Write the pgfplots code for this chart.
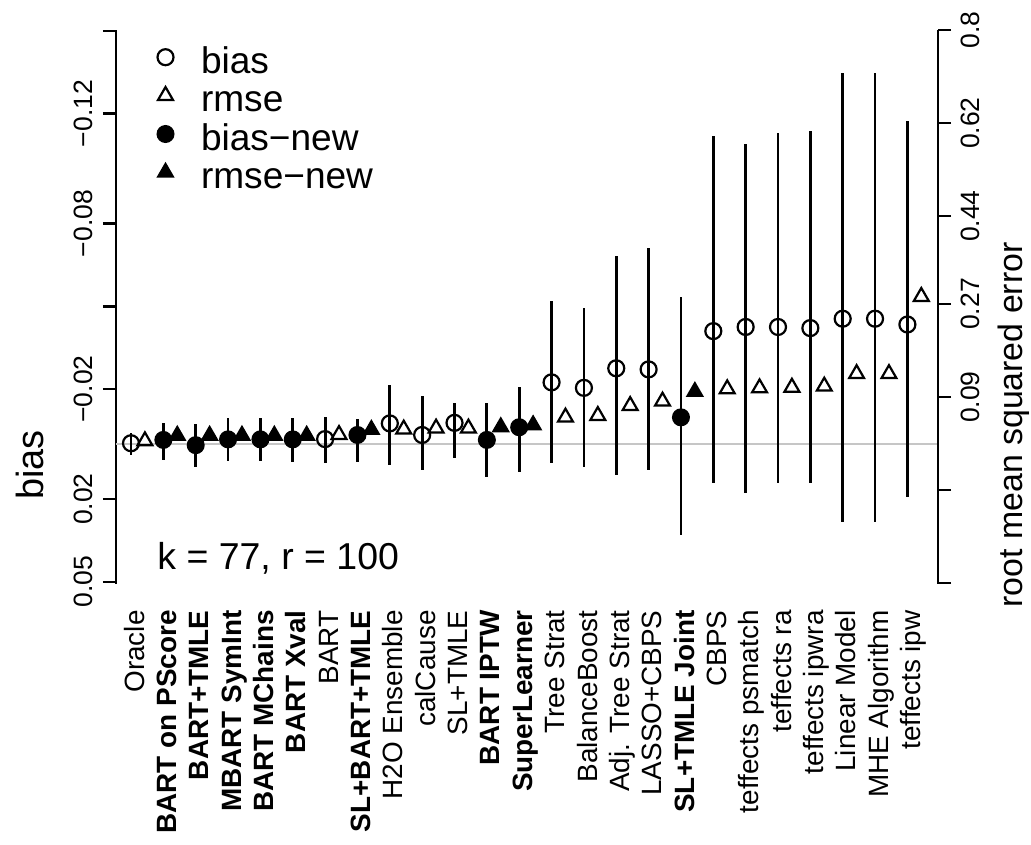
\documentclass[border=0pt]{standalone}
\usepackage{fontspec}
\setmainfont{Liberation Sans}
\usepackage{pgfplots}
\usepackage{pgfplotstable}
\pgfplotsset{compat=1.18}

% x = method index, b = bias, lo/hi = interval ends, r = rmse
\pgfplotstableread{
x  b       lo      hi      r
0  -0.0003 -0.0039 0.0040  0.0050
6  -0.0018 -0.0097 0.0068  0.0172
8  -0.0075 -0.0214 0.0076  0.0277
9  -0.0033 -0.0174 0.0094  0.0296
10 -0.0077 -0.0148 0.0050  0.0296
13 -0.0224 -0.0520 0.0068  0.0509
14 -0.0204 -0.0493 0.0085  0.0540
15 -0.0275 -0.0682 0.0114  0.0733
16 -0.0271 -0.0710 0.0094  0.0818
18 -0.0410 -0.1118 0.0140  0.1056
19 -0.0425 -0.1090 0.0177  0.1075
20 -0.0425 -0.1128 0.0141  0.1087
21 -0.0421 -0.1137 0.0141  0.1108
22 -0.0455 -0.1346 0.0283  0.1350
23 -0.0455 -0.1346 0.0283  0.1350
24 -0.0434 -0.1171 0.0193  0.2843
}\oldtab

\pgfplotstableread{
x  b       lo      hi      r
1  -0.0015 -0.0077 0.0058  0.0157
2  0.0004  -0.0073 0.0082  0.0157
3  -0.0017 -0.0093 0.0061  0.0157
4  -0.0017 -0.0093 0.0061  0.0157
5  -0.0017 -0.0095 0.0064  0.0157
7  -0.0033 -0.0090 0.0064  0.0269
11 -0.0015 -0.0150 0.0121  0.0321
12 -0.0061 -0.0206 0.0101  0.0360
17 -0.0097 -0.0535 0.0331  0.1004
}\newtab

\pgfplotsset{
  common/.style={
    at={(58bp,130.5bp)}, anchor=south west,
    scale only axis, width=411bp, height=277bp,
    xmin=-0.464, xmax=24.946,
    clip=false,
    axis line style={line width=1.3bp, black},
    tick align=outside,
    major tick length=6.5bp,
    ytick style={line width=1.3bp, black},
    yticklabel style={font=\fontsize{13.3}{15}\selectfont, inner sep=0pt, text height=0.716em, text depth=0pt},
  },
  mko/.style={mark size=4bp, mark options={line width=1.1bp, draw=black, fill=none, solid}},
  mkf/.style={mark size=4bp, mark options={line width=1bp, draw=black, fill=black, solid}},
  mkto/.style={mark size=4.3bp, mark options={line width=1.1bp, draw=black, fill=none, solid}},
  mktf/.style={mark size=4.3bp, mark options={line width=1bp, draw=black, fill=black, solid}},
}

\begin{document}
\begin{tikzpicture}
\useasboundingbox (0,0) rectangle (515.5bp,422.5bp);

\begin{axis}[common,
  ymin=-0.1503, ymax=0.0508, y dir=reverse,
  axis y line*=left, axis x line*=bottom,
  x axis line style={draw=none},
  xtick style={draw=none},
  ytick={-0.15,-0.12,-0.08,-0.05,-0.02,0.02,0.05},
  yticklabels={{},−0.12,−0.08,{},−0.02,0.02,0.05},
  yticklabel style={xshift=-5bp, rotate=90, anchor=south},
  xtick={0,...,24},
  xticklabels={Oracle,\textbf{BART on PScore},\textbf{BART+TMLE},\textbf{MBART SymInt},\textbf{BART MChains},\textbf{BART Xval},BART,\textbf{SL+BART+TMLE},H2O Ensemble,calCause,SL+TMLE,\textbf{BART IPTW},\textbf{SuperLearner},Tree Strat,BalanceBoost,Adj. Tree Strat,LASSO+CBPS,\textbf{SL+TMLE Joint},CBPS,teffects psmatch,teffects ra,teffects ipwra,Linear Model,MHE Algorithm,teffects ipw},
  xticklabel style={font=\fontsize{14}{16}\selectfont, inner sep=0pt, text height=0.716em, text depth=0pt, xshift=3bp, yshift=-6.5bp, rotate=90, anchor=east},
  legend image code/.code={\draw[#1] plot coordinates {(0bp,4.5bp)};},
  legend style={at={(rel axis cs:0.0505,0.9693)}, anchor=north west, draw=none, fill=none,
    inner sep=0pt, outer sep=0pt, font=\fontsize{18.6}{20}\selectfont,
    nodes={inner sep=0pt, text height=13.2bp, text depth=6bp},
    /tikz/every odd column/.style={column sep=13.75bp}},
  legend cell align=left,
]
\addplot[forget plot, gray!45, line width=0.9bp] coordinates {(-0.464,0) (24.946,0)};
\addplot[forget plot, draw=none, mark=none,
  error bars/.cd, y dir=both, y explicit, error mark=none,
  error bar style={draw=black, solid, line width=1.4bp}]
  table[x=x, y=b, y error plus expr=\thisrow{hi}-\thisrow{b}, y error minus expr=\thisrow{b}-\thisrow{lo}] {\oldtab};
\addplot[forget plot, draw=none, mark=none,
  error bars/.cd, y dir=both, y explicit, error mark=none,
  error bar style={draw=black, solid, line width=1.4bp}]
  table[x=x, y=b, y error plus expr=\thisrow{hi}-\thisrow{b}, y error minus expr=\thisrow{b}-\thisrow{lo}] {\newtab};
\addplot[forget plot, only marks, mark=o, mko] table[x=x, y=b] {\oldtab};
\addplot[forget plot, only marks, mark=*, mkf] table[x=x, y=b] {\newtab};

\addlegendimage{mark=o, mko}
\addlegendentry{bias}
\addlegendimage{mark=triangle, mkto}
\addlegendentry{rmse}
\addlegendimage{mark=*, mkf}
\addlegendentry{bias−new}
\addlegendimage{mark=triangle*, mktf}
\addlegendentry{rmse−new}
\end{axis}

\begin{axis}[common,
  ymin=-0.2716, ymax=0.8,
  axis y line*=right, axis x line=none,
  ytick={0.8,0.62,0.44,0.27,0.09,-0.09,-0.27},
  yticklabels={0.8,0.62,0.44,0.27,0.09,{},{}},
  yticklabel style={xshift=7bp, rotate=90, anchor=north},
]
\addplot[only marks, mark=triangle, mkto] table[x expr=\thisrow{x}+0.43, y=r] {\oldtab};
\addplot[only marks, mark=triangle*, mktf] table[x expr=\thisrow{x}+0.43, y=r] {\newtab};
\end{axis}

\node[rotate=90, anchor=base, font=\fontsize{19}{21}\selectfont] at (21.5bp,190bp) {bias};
\node[rotate=90, anchor=base, font=\fontsize{17}{19}\selectfont] at (511bp,210bp) {root mean squared error};
\node[anchor=base west, inner sep=0pt, font=\fontsize{18.8}{21}\selectfont] at (78.5bp,137.5bp) {k = 77, r = 100};
\end{tikzpicture}
\end{document}
